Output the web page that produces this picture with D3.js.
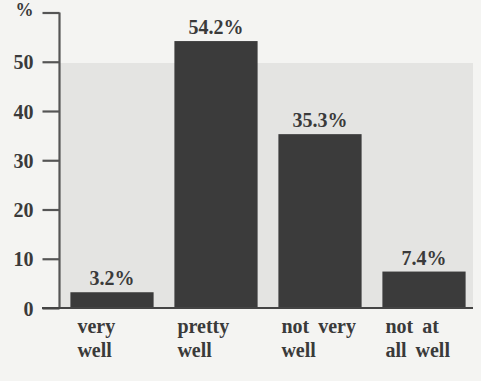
<!DOCTYPE html>
<html><head><meta charset="utf-8">
<script src="https://cdn.jsdelivr.net/npm/d3@7"></script>
<style>
html,body{margin:0;padding:0;background:#f4f4f2;}
svg{display:block;}
text{font-family:"Liberation Serif","DejaVu Serif",serif;font-weight:bold;fill:#3a3a3a;}
</style></head>
<body>
<script>
const categories = [["very","well"],["pretty","well"],["not very","well"],["not at","all well"]];
const values = [3.2, 54.2, 35.3, 7.4];
const valueLabels = ["3.2%","54.2%","35.3%","7.4%"];
const tickValues = [0,10,20,30,40,50,60];
const tickLabels = ["0","10","20","30","40","50","%"];

const W = 481, H = 381;
const FS = "20px";
const svg = d3.select("body").append("svg").attr("width", W).attr("height", H);

const y = d3.scaleLinear().domain([0, 60]).range([308, 12.5]);
const x = d3.scaleBand().domain(d3.range(values.length)).range([60, 476]).paddingInner(0.2).paddingOuter(0.1);

// scan shading
svg.append("rect").attr("x", 60).attr("y", 63).attr("width", 413).attr("height", 245).attr("fill", "#e4e4e2");

// bars
svg.selectAll("rect.bar").data(values).enter().append("rect").attr("class","bar")
  .attr("x", (d,i) => x(i)).attr("width", x.bandwidth())
  .attr("y", d => y(d)).attr("height", d => y(0) - y(d))
  .attr("fill", "#3b3b3b");

// y axis
const yAxis = d3.axisLeft(y).tickValues(tickValues).tickFormat((d,i) => tickLabels[i]).tickSize(17).tickPadding(9);
const ga = svg.append("g").attr("transform", "translate(59.5,0)").call(yAxis);
ga.attr("font-family", null).attr("font-size", null);
ga.select(".domain").attr("stroke", "#555").attr("stroke-width", 2.2).attr("d", `M0,${y(60)}V${y(0)}`);
ga.selectAll(".tick line").attr("stroke", "#555").attr("stroke-width", 2.2);
ga.selectAll(".tick text").style("font-size", FS).attr("fill", "#3a3a3a").attr("dy", "0.36em");
ga.selectAll(".tick").filter(d => d === 60).select("text").attr("dy", "0.15em").style("font-size", "18px");

// baseline
svg.append("line").attr("x1", 42).attr("x2", 473).attr("y1", y(0)).attr("y2", y(0)).attr("stroke", "#444").attr("stroke-width", 2.2);

// value labels
svg.selectAll("text.val").data(values).enter().append("text").attr("class","val")
  .attr("x", (d,i) => x(i) + x.bandwidth()/2).attr("y", d => y(d) - 7)
  .attr("text-anchor", "middle").style("font-size", FS)
  .text((d,i) => valueLabels[i]);

// category labels
const cg = svg.selectAll("text.cat").data(categories).enter().append("text").attr("class","cat")
  .attr("x", (d,i) => x(i) + (i === 0 ? 7 : 3)).attr("y", 333)
  .style("font-size", FS).style("word-spacing", "4px");
cg.selectAll("tspan").data(d => d).enter().append("tspan")
  .attr("x", function(){ return d3.select(this.parentNode).attr("x"); })
  .attr("dy", (d,i) => i === 0 ? 0 : 24)
  .text(d => d);
</script>
</body></html>
